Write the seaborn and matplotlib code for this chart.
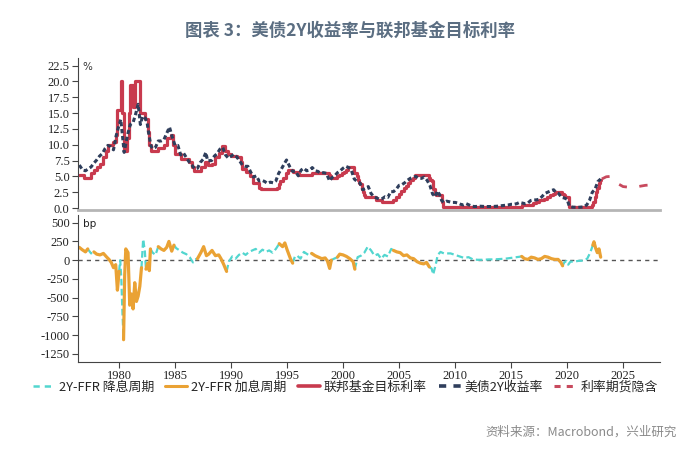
import numpy as np
import pandas as pd
import matplotlib
matplotlib.use("Agg")
import matplotlib.pyplot as plt
from matplotlib.lines import Line2D
import seaborn as sns

# ---------------- data ----------------
ffr_steps = [
    (1976.45, 5.25), (1976.9, 4.75), (1977.5, 5.5), (1977.8, 6.0), (1978.0, 6.5),
    (1978.3, 7.0), (1978.6, 8.0), (1978.8, 9.0), (1979.0, 10.0), (1979.5, 10.5),
    (1979.75, 11.5), (1979.85, 15.5), (1980.2, 20.0), (1980.3, 15.0), (1980.45, 9.0),
    (1980.7, 11.0), (1980.85, 15.0), (1980.95, 19.5), (1981.2, 16.0), (1981.45, 20.0),
    (1981.9, 15.0), (1982.3, 14.0), (1982.55, 12.0), (1982.7, 10.0), (1982.85, 9.0),
    (1983.5, 9.5), (1984.0, 10.0), (1984.3, 11.0), (1984.6, 11.5), (1984.8, 10.0),
    (1984.95, 8.5), (1985.5, 7.75), (1986.2, 7.25), (1986.5, 6.5), (1986.7, 5.875),
    (1987.3, 6.5), (1987.7, 7.25), (1987.9, 6.75), (1988.3, 7.0), (1988.6, 8.0),
    (1988.9, 8.75), (1989.2, 9.75), (1989.45, 9.0), (1989.75, 8.5), (1989.95, 8.25),
    (1990.5, 8.0), (1990.85, 7.25), (1991.0, 6.25), (1991.3, 5.75), (1991.7, 5.0),
    (1991.95, 4.0), (1992.5, 3.25), (1992.7, 3.0), (1994.1, 3.25), (1994.25, 3.75),
    (1994.4, 4.25), (1994.65, 4.75), (1994.9, 5.5), (1995.1, 6.0), (1995.5, 5.75),
    (1995.95, 5.5), (1996.1, 5.25), (1997.2, 5.5), (1998.75, 5.25), (1998.8, 5.0),
    (1998.9, 4.75), (1999.5, 5.0), (1999.65, 5.25), (1999.9, 5.5), (2000.1, 5.75),
    (2000.25, 6.0), (2000.4, 6.5), (2001.0, 5.5), (2001.2, 5.0), (2001.3, 4.5),
    (2001.4, 4.0), (2001.5, 3.75), (2001.7, 3.0), (2001.8, 2.5), (2001.9, 2.0),
    (2001.95, 1.75), (2002.9, 1.25), (2003.5, 1.0), (2004.5, 1.25), (2004.7, 1.75),
    (2004.95, 2.25), (2005.2, 2.75), (2005.4, 3.25), (2005.6, 3.5), (2005.8, 4.0),
    (2006.0, 4.5), (2006.2, 4.75), (2006.45, 5.25), (2007.7, 4.75), (2007.8, 4.5),
    (2007.95, 4.25), (2008.05, 3.0), (2008.2, 2.25), (2008.3, 2.0), (2008.8, 1.5),
    (2008.85, 1.0), (2008.95, 0.25), (2015.95, 0.5), (2016.95, 0.75), (2017.2, 1.0),
    (2017.45, 1.25), (2017.95, 1.5), (2018.2, 1.75), (2018.45, 2.0), (2018.7, 2.25),
    (2018.95, 2.5), (2019.55, 2.25), (2019.7, 2.0), (2019.8, 1.75), (2020.17, 0.25),
    (2022.2, 0.5), (2022.35, 1.0), (2022.45, 1.75), (2022.55, 2.5), (2022.7, 3.25),
    (2022.85, 4.0), (2022.95, 4.5), (2023.0, 4.5),
]

y2_points = [
    (1976.45, 6.8), (1976.75, 6.0), (1977.0, 5.9), (1977.25, 6.2), (1977.5, 6.5),
    (1977.75, 7.1), (1978.0, 7.6), (1978.25, 8.2), (1978.5, 8.6), (1978.75, 9.4),
    (1979.0, 9.9), (1979.25, 9.7), (1979.5, 9.2), (1979.75, 11.5), (1979.9, 12.5),
    (1980.15, 14.0), (1980.3, 11.5), (1980.45, 8.8), (1980.75, 11.5), (1981.0, 13.2),
    (1981.25, 13.5), (1981.5, 15.0), (1981.7, 16.4), (1981.9, 13.2), (1982.1, 14.5),
    (1982.35, 14.2), (1982.5, 13.5), (1982.7, 11.2), (1982.85, 9.8), (1983.0, 9.4),
    (1983.25, 9.6), (1983.5, 10.6), (1983.75, 10.6), (1984.0, 10.8), (1984.25, 11.8),
    (1984.5, 12.8), (1984.75, 11.2), (1985.0, 9.9), (1985.25, 9.9), (1985.5, 8.4),
    (1985.75, 8.7), (1986.0, 8.0), (1986.25, 7.3), (1986.5, 6.8), (1986.75, 6.2),
    (1987.0, 6.3), (1987.25, 7.2), (1987.5, 7.7), (1987.75, 8.8), (1987.9, 7.5),
    (1988.25, 7.5), (1988.5, 8.2), (1988.75, 8.6), (1989.0, 9.3), (1989.25, 9.6),
    (1989.5, 8.4), (1989.75, 7.9), (1990.0, 8.2), (1990.25, 8.5), (1990.5, 8.1),
    (1990.75, 7.5), (1991.0, 6.8), (1991.25, 6.6), (1991.5, 6.6), (1991.75, 5.7),
    (1992.0, 4.9), (1992.25, 5.1), (1992.5, 4.3), (1992.75, 4.4), (1993.0, 4.2),
    (1993.25, 3.9), (1993.5, 4.1), (1993.75, 4.0), (1994.0, 4.3), (1994.25, 5.5),
    (1994.5, 6.2), (1994.75, 7.0), (1994.95, 7.6), (1995.25, 6.5), (1995.5, 5.8),
    (1995.75, 5.8), (1996.0, 5.1), (1996.25, 6.0), (1996.5, 6.3), (1996.75, 5.9),
    (1997.0, 6.0), (1997.25, 6.4), (1997.5, 5.9), (1997.75, 5.8), (1998.0, 5.5),
    (1998.25, 5.6), (1998.5, 5.5), (1998.8, 4.3), (1999.0, 4.8), (1999.25, 5.1),
    (1999.5, 5.6), (1999.75, 5.9), (2000.0, 6.3), (2000.25, 6.6), (2000.5, 6.4),
    (2000.75, 5.9), (2001.0, 4.6), (2001.25, 4.2), (2001.5, 4.0), (2001.75, 2.9),
    (2002.0, 3.1), (2002.25, 3.4), (2002.5, 2.3), (2002.75, 1.8), (2003.0, 1.6),
    (2003.25, 1.4), (2003.5, 1.5), (2003.75, 1.8), (2004.0, 1.7), (2004.25, 2.6),
    (2004.5, 2.6), (2004.75, 3.0), (2005.0, 3.6), (2005.25, 3.7), (2005.5, 4.0),
    (2005.75, 4.4), (2006.0, 4.7), (2006.25, 4.9), (2006.5, 5.0), (2006.75, 4.7),
    (2007.0, 4.7), (2007.25, 4.9), (2007.5, 4.4), (2007.75, 3.6), (2008.0, 2.2),
    (2008.25, 1.8), (2008.4, 2.7), (2008.6, 2.2), (2008.8, 1.2), (2009.0, 0.9),
    (2009.25, 1.1), (2009.5, 1.0), (2009.75, 0.9), (2010.0, 0.9), (2010.25, 0.8),
    (2010.5, 0.6), (2010.75, 0.5), (2011.0, 0.7), (2011.25, 0.5), (2011.5, 0.3),
    (2011.75, 0.25), (2012.25, 0.3), (2012.75, 0.25), (2013.25, 0.25), (2013.75, 0.3),
    (2014.25, 0.4), (2014.75, 0.5), (2015.0, 0.6), (2015.25, 0.6), (2015.5, 0.7),
    (2015.75, 0.9), (2016.0, 0.8), (2016.25, 0.7), (2016.5, 0.8), (2016.75, 1.2),
    (2017.0, 1.3), (2017.25, 1.3), (2017.5, 1.4), (2017.75, 1.8), (2018.0, 2.3),
    (2018.25, 2.5), (2018.5, 2.7), (2018.8, 2.9), (2019.0, 2.5), (2019.25, 2.3),
    (2019.5, 1.7), (2019.75, 1.6), (2020.0, 1.4), (2020.2, 0.3), (2020.5, 0.15),
    (2021.0, 0.12), (2021.5, 0.2), (2021.75, 0.5), (2022.0, 1.2), (2022.25, 2.5),
    (2022.5, 3.0), (2022.75, 4.2), (2023.0, 4.6),
]

futures_points = [
    (2023.1, 4.6), (2023.5, 4.95), (2023.8, 5.0), (2024.2, 4.5), (2024.6, 3.8),
    (2025.0, 3.4), (2025.5, 3.3), (2026.0, 3.3), (2026.5, 3.45), (2027.0, 3.6),
    (2027.4, 3.65),
]

spread_points = [
    (1976.45, 170), (1976.7, 140), (1977.0, 110), (1977.2, 150), (1977.5, 90),
    (1977.75, 110), (1978.0, 80), (1978.3, 70), (1978.6, 90), (1978.9, 40),
    (1979.1, 10), (1979.3, -30), (1979.5, -100), (1979.7, -60), (1979.85, -400),
    (1980.0, -150), (1980.1, 0), (1980.2, -250), (1980.3, -700), (1980.4, -1060),
    (1980.5, -200), (1980.6, 150), (1980.8, 100), (1980.95, -600), (1981.1, -450),
    (1981.25, -650), (1981.4, -300), (1981.55, -550), (1981.7, -480), (1981.85, -350),
    (1982.0, -100), (1982.15, 280), (1982.3, 120), (1982.4, -120), (1982.55, -40),
    (1982.7, -140), (1982.8, 150), (1983.0, 100), (1983.25, 70), (1983.5, 180),
    (1983.75, 150), (1984.0, 130), (1984.25, 170), (1984.45, 250), (1984.7, 120),
    (1984.9, 200), (1985.1, 160), (1985.4, 130), (1985.7, 100), (1986.0, 80),
    (1986.3, 40), (1986.6, -30), (1986.8, 10), (1987.0, 20), (1987.3, 100),
    (1987.55, 180), (1987.8, 60), (1988.0, 80), (1988.3, 130), (1988.6, 60),
    (1988.9, 70), (1989.1, 20), (1989.35, -60), (1989.6, -150), (1989.8, -20),
    (1990.1, 50), (1990.4, 20), (1990.7, 70), (1991.0, 100), (1991.3, 70),
    (1991.6, 110), (1991.9, 130), (1992.2, 150), (1992.5, 100), (1992.8, 140),
    (1993.1, 110), (1993.4, 130), (1993.7, 100), (1994.0, 150), (1994.3, 220),
    (1994.6, 180), (1994.8, 230), (1995.0, 140), (1995.3, 20), (1995.5, -40),
    (1995.7, 50), (1995.9, 60), (1996.2, 20), (1996.5, 110), (1996.8, 80),
    (1997.0, 60), (1997.2, 90), (1997.5, 60), (1997.8, 40), (1998.1, 20),
    (1998.4, 30), (1998.6, -10), (1998.8, -110), (1998.95, 0), (1999.2, 20),
    (1999.5, 40), (1999.7, 80), (2000.0, 70), (2000.3, 50), (2000.6, 20),
    (2000.9, -20), (2001.05, -120), (2001.3, 40), (2001.6, 60), (2001.9, 100),
    (2002.2, 180), (2002.5, 130), (2002.8, 60), (2003.1, 80), (2003.4, 20),
    (2003.7, 70), (2004.0, 50), (2004.3, 150), (2004.5, 130), (2004.8, 110),
    (2005.1, 100), (2005.4, 60), (2005.7, 70), (2006.0, 30), (2006.3, 20),
    (2006.6, -20), (2006.9, -40), (2007.2, -50), (2007.45, -30), (2007.7, -90),
    (2007.9, -110), (2008.05, -190), (2008.3, -40), (2008.45, 70), (2008.7, 110),
    (2009.0, 90), (2009.3, 90), (2009.6, 90), (2010.0, 70), (2010.4, 50),
    (2010.8, 30), (2011.2, 40), (2011.6, 10), (2012.0, 5), (2012.5, 5),
    (2013.0, 10), (2013.5, 10), (2014.0, 15), (2014.5, 20), (2015.0, 30),
    (2015.5, 40), (2015.95, 50), (2016.2, 20), (2016.5, 10), (2016.8, 40),
    (2017.1, 30), (2017.4, 10), (2017.7, 20), (2018.0, 50), (2018.3, 40),
    (2018.6, 20), (2018.9, 10), (2019.2, 10), (2019.45, -30), (2019.6, -75),
    (2019.75, -30), (2019.95, -10), (2020.1, -60), (2020.3, -20), (2020.6, -20),
    (2021.0, -10), (2021.5, -5), (2021.8, 20), (2022.0, 80), (2022.15, 135),
    (2022.3, 200), (2022.4, 245), (2022.55, 160), (2022.7, 100), (2022.85, 150),
    (2023.0, 40),
]

hike_periods = [
    (1976.4, 1977.15), (1977.7, 1979.95), (1980.35, 1981.9), (1982.35, 1982.75),
    (1983.3, 1984.9), (1987.0, 1989.55), (1994.1, 1995.5), (1997.1, 1998.85),
    (1999.5, 2001.05), (2004.45, 2007.7), (2015.95, 2019.6), (2022.2, 2023.1),
]

labels = ["2Y-FFR 降息周期", "2Y-FFR 加息周期", "联邦基金目标利率", "美债2Y收益率", "利率期货隐含"]

# ---------------- frames ----------------
ffr_df = pd.DataFrame(ffr_steps, columns=["year", "rate"])
y2_df = pd.DataFrame(y2_points, columns=["year", "rate"])
fut_df = pd.DataFrame(futures_points, columns=["year", "rate"])

sp = pd.DataFrame(spread_points, columns=["year", "bp"])
sp["hike"] = sp["year"].apply(lambda t: any(a <= t < b for a, b in hike_periods))
rows = []
seg = 0
prev = None
for i, r in sp.iterrows():
    if prev is not None and r["hike"] != prev["hike"]:
        rows.append((r["year"], r["bp"], seg, prev["hike"]))
        seg += 1
    rows.append((r["year"], r["bp"], seg, r["hike"]))
    prev = r
seg_df = pd.DataFrame(rows, columns=["year", "bp", "seg", "hike"])

# ---------------- style ----------------
sns.set_theme(style="white")
plt.rcParams["font.family"] = ["Liberation Serif", "DejaVu Sans"]
plt.rcParams["axes.unicode_minus"] = False

C_CYAN = "#52d6cf"
C_ORANGE = "#eaa234"
C_RED = "#c83a4e"
C_NAVY = "#2f3e5c"
C_FUT = "#c84a5e"
C_AX = "#444444"

fig = plt.figure(figsize=(7.0, 4.69), dpi=100)
ax1 = fig.add_axes([0.1114, 0.5522, 0.8315, 0.3241])
ax2 = fig.add_axes([0.1114, 0.2288, 0.8315, 0.3128])

XMIN, XMAX = 1976.33, 2028.3

# top panel
sns.lineplot(data=ffr_df, x="year", y="rate", ax=ax1, color=C_RED, lw=2.3,
             drawstyle="steps-post", estimator=None, sort=False)
sns.lineplot(data=y2_df, x="year", y="rate", ax=ax1, color=C_NAVY, lw=2.2,
             linestyle=(0, (1.4, 0.9)), estimator=None, sort=False)
sns.lineplot(data=fut_df, x="year", y="rate", ax=ax1, color=C_FUT, lw=2.0,
             linestyle=(0, (3.0, 4.5)), estimator=None, sort=False)
ax1.set_xlim(XMIN, XMAX)
ax1.set_ylim(-0.3, 23.7)
ax1.set_yticks(np.arange(0, 22.6, 2.5))
ax1.set_yticklabels([f"{v:.1f}" for v in np.arange(0, 22.6, 2.5)])
ax1.set_xlabel("")
ax1.set_ylabel("")
ax1.tick_params(axis="x", bottom=False, labelbottom=False)
ax1.tick_params(axis="y", left=True, length=4, width=0.8, color=C_AX, labelsize=9, pad=2,
                labelcolor="#222222")
for s in ["top", "right"]:
    ax1.spines[s].set_visible(False)
ax1.spines["left"].set_color(C_AX)
ax1.spines["left"].set_linewidth(0.8)
ax1.spines["bottom"].set_color("#b5b5b5")
ax1.spines["bottom"].set_linewidth(2.0)
ax1.text(0.008, 0.975, "%", transform=ax1.transAxes, ha="left", va="top",
         fontsize=7.5, family=["DejaVu Sans"], color="#333333")

# bottom panel
ax2.axhline(0, color="#555555", lw=1.0, linestyle=(0, (3, 3)))
cut_df = seg_df[~seg_df["hike"]]
hike_df = seg_df[seg_df["hike"]]
sns.lineplot(data=cut_df, x="year", y="bp", units="seg", estimator=None, sort=False,
             ax=ax2, color=C_CYAN, lw=1.6, linestyle=(0, (3, 1.5)))
sns.lineplot(data=hike_df, x="year", y="bp", units="seg", estimator=None, sort=False,
             ax=ax2, color=C_ORANGE, lw=2.3)
ax2.set_xlim(XMIN, XMAX)
ax2.set_ylim(-1353, 602)
ax2.set_yticks([500, 250, 0, -250, -500, -750, -1000, -1250])
ax2.set_xticks([1980, 1985, 1990, 1995, 2000, 2005, 2010, 2015, 2020, 2025])
ax2.set_xlabel("")
ax2.set_ylabel("")
ax2.tick_params(axis="both", length=4, width=0.8, color=C_AX, labelsize=9, pad=2,
                labelcolor="#222222", bottom=True, left=True)
for s in ["top", "right"]:
    ax2.spines[s].set_visible(False)
for s in ["left", "bottom"]:
    ax2.spines[s].set_color(C_AX)
    ax2.spines[s].set_linewidth(0.8)
ax2.text(0.008, 0.975, "bp", transform=ax2.transAxes, ha="left", va="top",
         fontsize=7.5, family=["DejaVu Sans"], color="#222222")

# legend
handles = [
    Line2D([], [], color=C_CYAN, lw=1.8, linestyle=(0, (2.5, 2.0))),
    Line2D([], [], color=C_ORANGE, lw=2.2),
    Line2D([], [], color=C_RED, lw=2.6),
    Line2D([], [], color=C_NAVY, lw=2.6, linestyle=(0, (2.0, 2.0))),
    Line2D([], [], color=C_FUT, lw=2.2, linestyle=(0, (2.0, 2.0))),
]
fig.legend(handles, labels, loc="center", bbox_to_anchor=(0.493, 0.174), ncol=5,
           frameon=False, handlelength=1.7, handletextpad=0.3, columnspacing=0.9,
           prop={"family": ["Noto Sans CJK SC", "DejaVu Sans"], "size": 9.3})

# title & source
fig.text(0.5, 0.935, "图表 3：美债2Y收益率与联邦基金目标利率", ha="center", va="center",
         fontsize=12.5, fontweight="bold", color="#5b6e82",
         family=["Noto Sans CJK SC", "DejaVu Sans"])
fig.text(0.967, 0.079, "资料来源：Macrobond，兴业研究", ha="right", va="center",
         fontsize=9, color="#8a8a8a", family=["Noto Sans CJK SC", "DejaVu Sans"])

fig.savefig("out.png", dpi=100, facecolor="white")
